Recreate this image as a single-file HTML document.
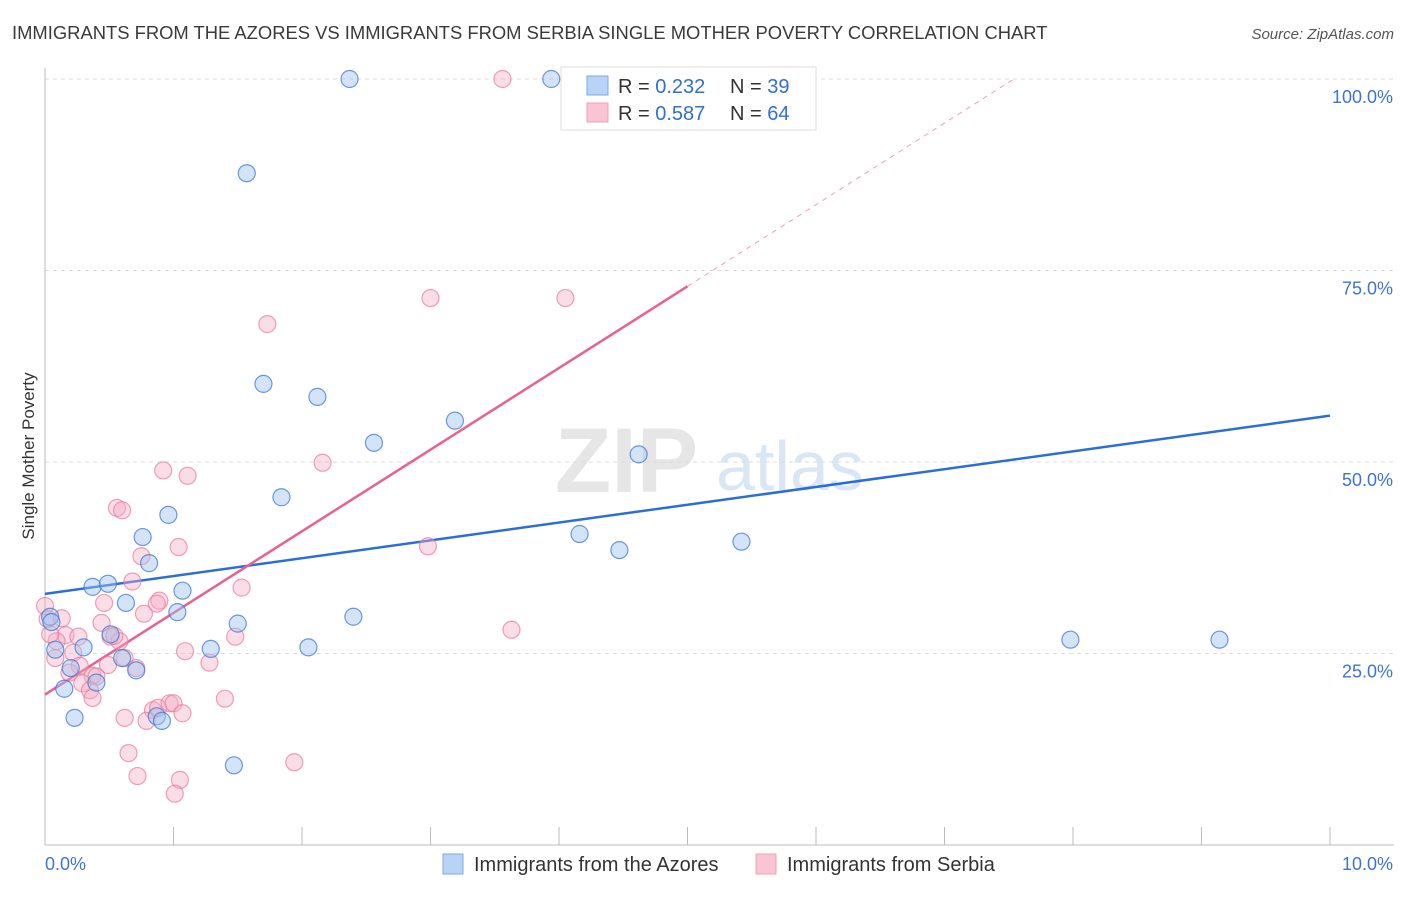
<!DOCTYPE html>
<html><head><meta charset="utf-8"><style>
body{margin:0;background:#fff;font-family:"Liberation Sans",sans-serif;}
svg text{font-family:"Liberation Sans",sans-serif;}
</style></head><body>
<svg id="chart" width="1406" height="892" viewBox="0 0 1406 892">
<text x="12" y="39" font-size="18.4" fill="#3a3a3a">IMMIGRANTS FROM THE AZORES VS IMMIGRANTS FROM SERBIA SINGLE MOTHER POVERTY CORRELATION CHART</text>
<text x="1394" y="39" font-size="15" fill="#555" font-style="italic" text-anchor="end">Source: ZipAtlas.com</text>
<text transform="translate(34,456) rotate(-90)" font-size="17" fill="#333" text-anchor="middle">Single Mother Poverty</text>
<text x="555" y="492" font-size="92" fill="#e6e6e6" font-family="Liberation Serif" font-weight="bold">ZIP</text>
<text x="716" y="490" font-size="70" fill="#d8e6f5">atlas</text>
<g id="grid"></g>
<g id="axes"></g>
<g id="lines"></g>
<g id="pts"></g>
<g>
<rect x="561" y="67" width="255" height="63" fill="#fff" stroke="#ddd"/>
<rect x="587" y="76" width="21" height="19" fill="#b8d3f5" stroke="#7fa8e0"/>
<rect x="587" y="103" width="21" height="19" fill="#f9c4d4" stroke="#eea1b7"/>
<text x="618" y="93" font-size="20" fill="#333">R = <tspan fill="#2f6fd6">0.232</tspan></text>
<text x="730" y="93" font-size="20" fill="#333">N = <tspan fill="#2f6fd6">39</tspan></text>
<text x="618" y="120" font-size="20" fill="#333">R = <tspan fill="#2f6fd6">0.587</tspan></text>
<text x="730" y="120" font-size="20" fill="#333">N = <tspan fill="#2f6fd6">64</tspan></text>
</g>
<g>
<rect x="443" y="854" width="20" height="20" fill="#b8d3f5" stroke="#7fa8e0"/>
<text x="474" y="871" font-size="20" fill="#333">Immigrants from the Azores</text>
<rect x="756" y="854" width="20" height="20" fill="#f9c4d4" stroke="#eea1b7"/>
<text x="787" y="871" font-size="20" fill="#333">Immigrants from Serbia</text>
</g>
</svg>
<script>
const xTicks=[0,1,2,3,4,5,6,7,8,9,10];
const yTicks=[25,50,75,100];
const azoresX=[2.37,3.94,1.57,1.70,2.12,2.56,3.19,4.62,1.84,0.96,0.76,0.81,4.16,4.47,5.42,0.37,0.49,1.07,0.63,1.03,1.50,2.40,0.04,0.05,0.51,0.30,0.08,1.29,2.05,0.60,0.71,0.20,0.40,0.15,0.23,0.87,0.91,1.47,7.98,9.14];
const azoresY=[100,100,87.7,60.2,58.5,52.5,55.4,51.0,45.4,43.1,40.2,36.8,40.6,38.5,39.6,33.7,34.1,33.2,31.6,30.4,28.9,29.8,29.8,29.1,27.5,25.8,25.5,25.6,25.8,24.4,22.8,23.1,21.2,20.4,16.6,16.8,16.2,10.4,26.8,26.8];
const serbiaX=[3.56,3.00,4.05,1.73,2.16,0.92,1.11,0.56,0.60,1.04,2.98,0.75,0.68,1.53,0.46,0.89,0.87,0.77,0.00,0.02,0.13,0.44,3.63,1.48,0.16,0.26,0.51,0.58,0.54,1.09,0.22,0.08,0.62,1.28,0.49,0.27,0.71,0.19,0.37,0.40,0.29,0.35,0.37,1.40,0.84,0.88,0.97,1.00,1.07,0.62,0.79,0.65,1.94,0.72,1.05,1.01,0.09,0.04];
const serbiaY=[100,71.4,71.4,68.0,49.9,48.9,48.2,44.0,43.7,38.9,39.0,37.7,34.4,33.6,31.6,31.9,31.5,30.2,31.2,29.5,29.6,29.0,28.1,27.2,27.4,27.2,27.2,26.6,27.3,25.3,25.1,24.4,24.4,23.8,23.5,23.4,23.1,22.5,22.1,22.0,21.1,20.2,19.2,19.1,17.6,17.9,18.5,18.5,17.2,16.6,16.2,12.0,10.8,9.0,8.5,6.7,26.6,27.5];
const X0=45,X1=1330,Y0=845,Y1=79;
const sx=v=>X0+(v-0)/10*(X1-X0);
const sy=v=>Y0-(v/100)*(Y0-Y1);
const NS="http://www.w3.org/2000/svg";
function mk(tag,attrs,parent){const e=document.createElementNS(NS,tag);for(const k in attrs)e.setAttribute(k,attrs[k]);parent.appendChild(e);return e;}
const grid=document.getElementById('grid'),axes=document.getElementById('axes');
yTicks.forEach(t=>{
 const l=mk('line',{x1:X0,x2:1394,y1:sy(t),y2:sy(t),stroke:'#dcdcdc','stroke-dasharray':'4,4'},grid);
 
 
 const tx=mk('text',{x:1393,y:sy(t)+24,'font-size':18,fill:'#3d74d1','text-anchor':'end'},axes);
 tx.textContent=t.toFixed(1)+'%';
 
 
});
const ya=mk('line',{x1:X0,x2:X0,y1:68,y2:Y0,stroke:'#bbb'},axes);


const xa=mk('line',{x1:X0,x2:1394,y1:Y0,y2:Y0,stroke:'#bbb'},axes);


xTicks.forEach(t=>{
 const l=mk('line',{x1:sx(t),x2:sx(t),y1:827,y2:Y0,stroke:'#bbb'},axes);
 
 
});
[[0,'start',45],[10,'end',1393]].forEach(([v,a,x])=>{
 const tx=mk('text',{x:x,y:870,'font-size':18,fill:'#3d74d1','text-anchor':a},axes);
 tx.textContent=v.toFixed(1)+'%';
 
 
});
const pts=document.getElementById('pts');
function dots(xs,ys,fill,stroke,name){xs.forEach((x,i)=>{
 const c=mk('circle',{cx:sx(x),cy:sy(ys[i]),r:8.5,fill:fill,stroke:stroke,'stroke-width':1.2},pts);
 
 
});}
dots(serbiaX,serbiaY,'rgba(246,170,195,0.4)','rgba(232,120,155,0.7)','serbia-point');
dots(azoresX,azoresY,'rgba(160,196,240,0.45)','rgba(60,120,210,0.75)','azores-point');
const lines=document.getElementById('lines');
function fit(xs,ys){const n=xs.length;const mx=xs.reduce((a,b)=>a+b)/n,my=ys.reduce((a,b)=>a+b)/n;let num=0,den=0;xs.forEach((x,i)=>{num+=(x-mx)*(ys[i]-my);den+=(x-mx)**2;});const b=num/den;return [my-b*mx,b];}
const [ab,bb]=fit(azoresX,azoresY);
const bl=mk('line',{x1:sx(0),y1:sy(ab),x2:sx(10),y2:sy(ab+bb*10),stroke:'#2a6fd6','stroke-width':2.5},lines);


const [as,bs]=fit(serbiaX,serbiaY);
const pl=mk('line',{x1:sx(0),y1:sy(as),x2:sx(5),y2:sy(as+bs*5),stroke:'#e8628f','stroke-width':2.5},lines);


const xe=(100-as)/bs;
const pd=mk('line',{x1:sx(5),y1:sy(as+bs*5),x2:sx(xe),y2:sy(100),stroke:'#eaa0b8','stroke-width':1,'stroke-dasharray':'5,5'},lines);


</script>
</body></html>
